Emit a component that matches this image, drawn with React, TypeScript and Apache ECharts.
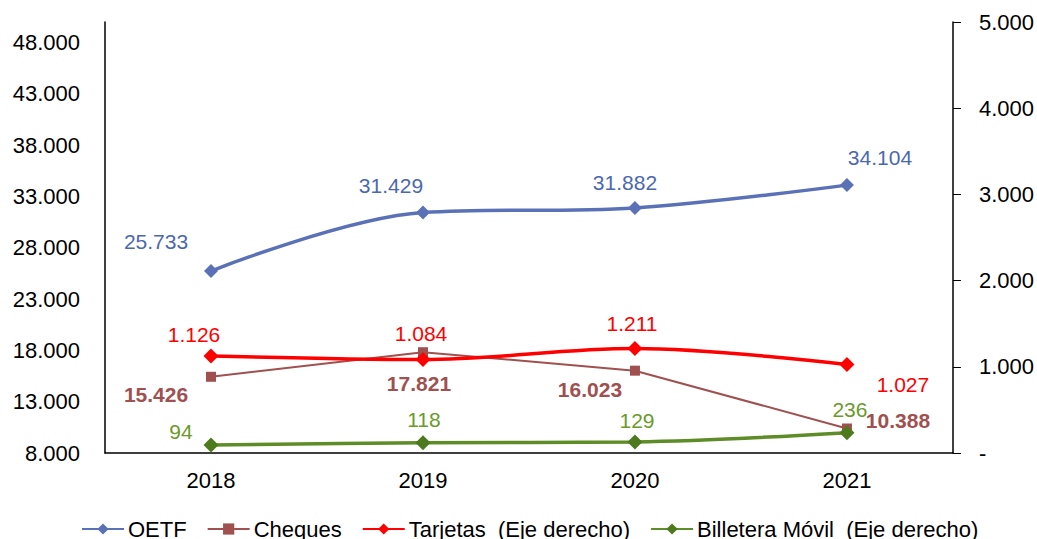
import React, { useEffect, useRef } from "react";
import * as echarts from "echarts";

const years = ["2018", "2019", "2020", "2021"];
const oetf = [25733, 31429, 31882, 34104];
const cheques = [15426, 17821, 16023, 10388];
const tarjetas = [1126, 1084, 1211, 1027];
const billetera = [94, 118, 129, 236];

// label offsets (dx, dy) relative to the point
const oetfOff = [[-55, -30], [-32, -27], [-10, -25], [33, -28]];
const chequesOff = [[-55, 18], [-4, 31], [-45, 19], [51, -8]];
const tarjetasOff = [[-17, -21], [-2, -26], [-3, -25], [56, 20]];
const billeteraOff = [[-30, -13], [1, -23], [2, -21], [3, -23]];

const fmt = (v: number) => String(Math.round(v)).replace(/\B(?=(\d{3})+(?!\d))/g, ".");
const FONT = "'Liberation Sans', Arial, sans-serif";

function mkData(vals: number[], offs: number[][]) {
  return vals.map((v, i) => ({
    value: v,
    label: { offset: offs[i] },
  }));
}

export default function App() {
  const ref = useRef<HTMLDivElement>(null);
  useEffect(() => {
    if (!ref.current) return;
    const chart = echarts.init(ref.current, null, { renderer: "svg" });
    const labelBase = {
      show: true,
      position: "inside" as const,
      align: "center",
      verticalAlign: "middle",
      fontSize: 21,
      fontFamily: FONT,
      formatter: (p: any) => fmt(p.value),
    };
    chart.setOption({
      animation: false,
      textStyle: { fontFamily: FONT },
      grid: { left: 105, right: 84, top: 22, bottom: 86, containLabel: false },
      legend: {
        top: 513,
        left: 76,
        itemWidth: 42,
        itemHeight: 14,
        itemGap: 20,
        textStyle: { fontSize: 22, color: "#000", fontFamily: FONT, padding: [0, 0, 0, -1] },
        data: [
          "OETF",
          "Cheques",
          "Tarjetas  (Eje derecho)",
          "Billetera Móvil  (Eje derecho)",
        ],
      },
      xAxis: {
        type: "category",
        data: years,
        boundaryGap: true,
        axisLine: { show: true, lineStyle: { color: "#000", width: 1.5 } },
        axisTick: { show: false },
        axisLabel: { fontSize: 22, color: "#000", margin: 16, fontFamily: FONT },
        splitLine: { show: false },
      },
      yAxis: [
        {
          type: "value",
          min: 8000,
          max: 50000,
          interval: 1000,
          axisLine: { show: true, lineStyle: { color: "#000", width: 1.5 } },
          axisTick: { show: false },
          splitLine: { show: false },
          axisLabel: {
            fontSize: 22,
            color: "#000",
            margin: 25,
            fontFamily: FONT,
            formatter: (v: number) =>
              (v - 8000) % 5000 === 0 && v <= 48000 ? fmt(v) : "",
          },
        },
        {
          type: "value",
          min: 0,
          max: 5000,
          interval: 1000,
          position: "right",
          axisLine: { show: true, lineStyle: { color: "#000", width: 1.5 } },
          axisTick: { show: true, length: 8, lineStyle: { color: "#000" } },
          splitLine: { show: false },
          axisLabel: {
            fontSize: 22,
            color: "#000",
            margin: 26,
            fontFamily: FONT,
            formatter: (v: number) => (v === 0 ? "-" : fmt(v)),
          },
        },
      ],
      series: [
        {
          name: "OETF",
          type: "line",
          yAxisIndex: 0,
          smooth: 0.35,
          data: mkData(oetf, oetfOff),
          symbol: "diamond",
          symbolSize: 14,
          lineStyle: { color: "#5A71B7", width: 3.5 },
          itemStyle: { color: "#5A71B7" },
          label: { ...labelBase, color: "#4A68B0" },
          z: 3,
        },
        {
          name: "Cheques",
          type: "line",
          yAxisIndex: 0,
          smooth: false,
          data: mkData(cheques, chequesOff),
          symbol: "rect",
          symbolSize: 10,
          lineStyle: { color: "#A0504F", width: 2 },
          itemStyle: { color: "#A0504F" },
          label: { ...labelBase, color: "#A0504F", fontWeight: "bold" },
          z: 2,
        },
        {
          name: "Tarjetas  (Eje derecho)",
          type: "line",
          yAxisIndex: 1,
          smooth: 0.35,
          data: mkData(tarjetas, tarjetasOff),
          symbol: "diamond",
          symbolSize: 15,
          lineStyle: { color: "#FF0000", width: 3.5 },
          itemStyle: { color: "#FF0000" },
          label: { ...labelBase, color: "#FF0000" },
          z: 4,
        },
        {
          name: "Billetera Móvil  (Eje derecho)",
          type: "line",
          yAxisIndex: 1,
          smooth: 0.35,
          data: mkData(billetera, billeteraOff),
          symbol: "diamond",
          symbolSize: 15,
          lineStyle: { color: "#5E8C26", width: 3.5 },
          itemStyle: { color: "#4E7A1E" },
          label: { ...labelBase, color: "#6A9A2A" },
          z: 4,
        },
      ],
    });
    return () => chart.dispose();
  }, []);
  return <div ref={ref} style={{ width: 1037, height: 539, position: "absolute", left: 0, top: 0 }} />;
}
